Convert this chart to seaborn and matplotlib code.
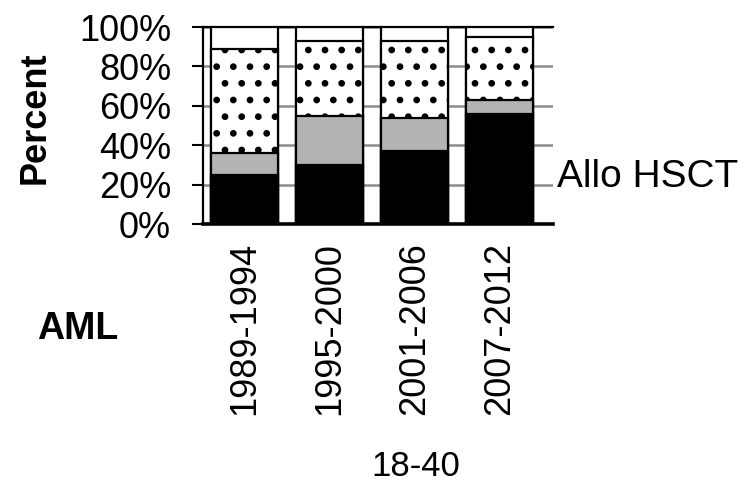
import pandas as pd
import matplotlib.pyplot as plt
import seaborn as sns

# values (percent of patients, stacked from the bottom)
periods = ["1989-1994", "1995-2000", "2001-2006", "2007-2012"]
allo_hsct = [25, 30, 37, 56]      # black
grey_part = [11, 25, 17, 7]       # grey
dotted_part = [53, 38, 39, 32]    # dotted
y_ticks = [0, 20, 40, 60, 80, 100]

sns.set_theme(style="white")
plt.rcParams["font.family"] = ["Liberation Sans", "DejaVu Sans"]
plt.rcParams["hatch.linewidth"] = 2.4
plt.rcParams["text.color"] = "black"
plt.rcParams["xtick.color"] = "black"
plt.rcParams["ytick.color"] = "black"

df = pd.DataFrame({"period": periods, "allo": allo_hsct,
                   "grey": grey_part, "dots": dotted_part})
# cumulative heights, drawn back to front
df["top_allo"] = df["allo"]
df["top_grey"] = df["top_allo"] + df["grey"]
df["top_dots"] = df["top_grey"] + df["dots"]
df["top_all"] = 100

fig = plt.figure(figsize=(7.55, 4.84), dpi=100)
ax = fig.add_axes([203 / 755, 1 - 224 / 484, 350 / 755, 197 / 484])

layers = [
    ("top_all", "white", ""),
    ("top_dots", "white", "."),
    ("top_grey", "#b3b3b3", ""),
    ("top_allo", "black", ""),
]
for col, colour, hatch in layers:
    sns.barplot(data=df, x="period", y=col, order=periods, color=colour,
                saturation=1, width=0.78, edgecolor="black", linewidth=1.6,
                hatch=hatch, ax=ax, zorder=3)

ax.set_xlim(-0.49, 3.63)
ax.set_ylim(0, 100)
ax.set_yticks(y_ticks)
ax.set_yticklabels([f"{t}%" for t in y_ticks])
ax.set_axisbelow(True)
ax.yaxis.grid(True, color="#8c8c8c", linewidth=1.8)
ax.xaxis.grid(False)

ax.tick_params(axis="y", direction="out", length=8, width=1.5, color="black",
               labelcolor="black", pad=15, labelsize=26, left=True)
ax.tick_params(axis="x", length=0, pad=13, labelsize=26, labelrotation=90,
               labelcolor="black")
ax.set_xlabel("")
ax.set_ylabel("")

for side in ["left", "top"]:
    ax.spines[side].set_color("black")
    ax.spines[side].set_linewidth(1.6)
ax.spines["bottom"].set_color("black")
ax.spines["bottom"].set_linewidth(2.6)
ax.spines["right"].set_visible(False)

fig.text(35 / 755, 1 - 118 / 484, "Percent", rotation=90, fontsize=26,
         fontweight="bold", ha="center", va="center")
fig.text(78 / 755, 1 - 329 / 484, "AML", fontsize=27, fontweight="bold",
         ha="center", va="center")
fig.text(416 / 755, 1 - 466 / 484, "18-40", fontsize=25,
         ha="center", va="center")
fig.text(557 / 755, 1 - 187 / 484, "Allo HSCT", fontsize=28,
         ha="left", va="baseline")

fig.savefig("out.png", dpi=100)
